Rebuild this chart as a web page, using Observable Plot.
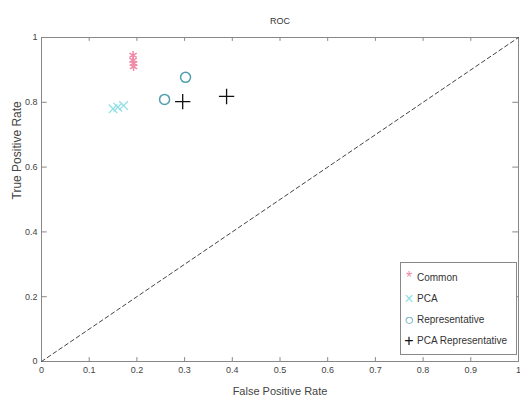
<!DOCTYPE html>
<html><head><meta charset="utf-8">
<script src="https://cdn.jsdelivr.net/npm/d3@7"></script>
<script src="https://cdn.jsdelivr.net/npm/@observablehq/plot@0.6"></script>
<style>
body{margin:0;background:#fff;font-family:"Liberation Sans",Arial,sans-serif;}
#wrap{position:relative;width:520px;height:406px;}
#legend{position:absolute;left:400px;top:262px;width:117px;height:93px;border:1px solid #888;background:#fff;font-size:10px;color:#333;box-sizing:border-box;padding-top:4px;}
#legend div{height:21px;line-height:21px;white-space:nowrap;}
#legend span.s{display:inline-block;width:16px;text-align:center;font-size:16px;vertical-align:top;}
</style></head><body>
<div id="wrap"></div>
<script>
const commonFPR = [0.192, 0.192, 0.193, 0.193];
const commonTPR = [0.945, 0.93, 0.92, 0.91];
const pcaFPR = [0.15, 0.16, 0.172];
const pcaTPR = [0.78, 0.785, 0.79];
const repFPR = [0.258, 0.302];
const repTPR = [0.809, 0.877];
const pcaRepFPR = [0.296, 0.388];
const pcaRepTPR = [0.802, 0.818];
const seriesNames = ["Common", "PCA", "Representative", "PCA Representative"];
const xTicks = [0, 0.1, 0.2, 0.3, 0.4, 0.5, 0.6, 0.7, 0.8, 0.9, 1];
const yTicks = [0, 0.2, 0.4, 0.6, 0.8, 1];
const colors = ["#f08aa6", "#8fe0e6", "#4f9fb0", "#111"];
const symbols = ["asterisk", "times", "circle", "plus"];
const glyphs = ["*", "×", "○", "+"];

const pts = (fx, ty, i) => fx.map((x, k) => ({x, y: ty[k], s: seriesNames[i]}));
const common = pts(commonFPR, commonTPR, 0);
const pca = pts(pcaFPR, pcaTPR, 1);
const rep = pts(repFPR, repTPR, 2);
const prep = pts(pcaRepFPR, pcaRepTPR, 3);

const tick = 0.012;
const chart = Plot.plot({
  width: 520, height: 406,
  marginLeft: 41, marginRight: 2, marginTop: 37, marginBottom: 45,
  style: {fontFamily: "Liberation Sans, Arial, sans-serif", fontSize: "9px", color: "#444"},
  x: {domain: [0, 1], ticks: xTicks, tickFormat: d => d === 0 ? "0" : d === 1 ? "1" : String(d), tickSize: 0, tickPadding: 5, label: null},
  y: {domain: [0, 1], ticks: yTicks, tickFormat: d => d === 0 ? "0" : d === 1 ? "1" : String(d), tickSize: 0, tickPadding: 4, label: null},
  marks: [
    Plot.frame({stroke: "#888"}),
    Plot.ruleX(xTicks, {x: d => d, y1: 0, y2: tick, stroke: "#888"}),
    Plot.ruleX(xTicks, {x: d => d, y1: 1 - tick, y2: 1, stroke: "#888"}),
    Plot.ruleY(yTicks, {y: d => d, x1: 0, x2: tick, stroke: "#888"}),
    Plot.ruleY(yTicks, {y: d => d, x1: 1 - tick, x2: 1, stroke: "#888"}),
    Plot.line([[0, 0], [1, 1]], {stroke: "#444", strokeDasharray: "4,3", strokeWidth: 1}),
    Plot.dot(common, {x: "x", y: "y", symbol: () => symbols[0], stroke: colors[0], r: 4, strokeWidth: 1.5}),
    Plot.dot(pca, {x: "x", y: "y", symbol: () => symbols[1], stroke: colors[1], r: 4, strokeWidth: 1.3}),
    Plot.dot(rep, {x: "x", y: "y", symbol: () => symbols[2], stroke: colors[2], r: 5, strokeWidth: 1.5}),
    Plot.dot(prep, {x: "x", y: "y", symbol: () => symbols[3], stroke: colors[3], r: 5, strokeWidth: 1.3}),
    Plot.text(["ROC"], {frameAnchor: "top", dy: -20, fontSize: 9, fill: "#333"}),
    Plot.text(["False Positive Rate"], {frameAnchor: "bottom", dy: 33, fontSize: 11, fill: "#444"}),
    Plot.text(["True Positive Rate"], {frameAnchor: "left", dx: -24, rotate: -90, fontSize: 12, fill: "#444"})
  ],
  symbol: {type: "identity"}
});
const wrap = document.getElementById("wrap");
wrap.appendChild(chart);
const lg = document.createElement("div");
lg.id = "legend";
seriesNames.forEach((n, i) => {
  const row = document.createElement("div");
  row.innerHTML = `<span class="s" style="color:${colors[i]}">${glyphs[i]}</span>${n}`;
  lg.appendChild(row);
});
wrap.appendChild(lg);
</script></body></html>
